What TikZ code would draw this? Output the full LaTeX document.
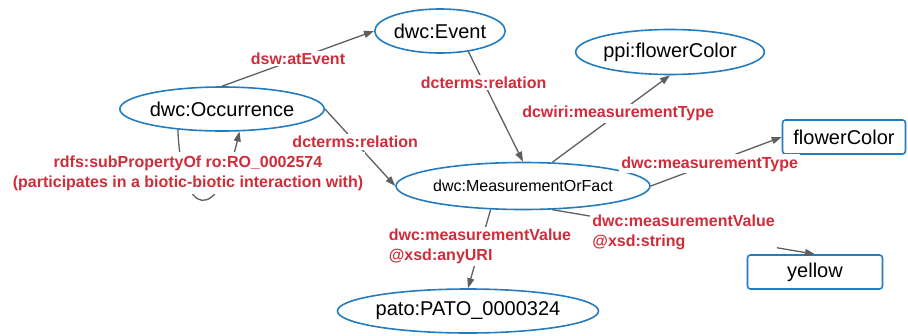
\documentclass[tikz,border=0pt]{standalone}
\usepackage{fontspec}
\setmainfont{Liberation Sans}
\usetikzlibrary{shapes.geometric,arrows.meta}
\definecolor{lblred}{RGB}{208,44,58}
\definecolor{nodeblue}{RGB}{36,124,192}
\definecolor{arrgray}{RGB}{95,95,95}
\tikzset{
  ell/.style={ellipse,draw=nodeblue,line width=1.6pt,inner sep=0pt,font=\fontsize{20}{24}\selectfont},
  lit/.style={rectangle,rounded corners=3pt,draw=nodeblue,line width=1.6pt,inner sep=0pt,font=\fontsize{20}{24}\selectfont},
  arr/.style={draw=arrgray,line width=1.3pt,-{Triangle[length=10pt,width=7pt]}},
  lbl/.style={fill=white,text=lblred,inner sep=2pt,font=\fontsize{16}{20}\selectfont\bfseries}
}
\begin{document}
\begin{tikzpicture}[x=1pt,y=-1pt]
\useasboundingbox (0,0) rectangle (908,335);
\node[ell,minimum width=124pt,minimum height=44pt] (ev) at (440,31) {dwc:Event};
\node[ell,minimum width=180pt,minimum height=45pt] (ppi) at (670,52) {ppi:flowerColor};
\node[ell,minimum width=158pt,minimum height=44pt] (occ) at (222,109) {dwc:Occurrence};
\node[ell,minimum width=206pt,minimum height=47pt,font=\fontsize{16}{20}\selectfont] (mof) at (523,186) {dwc:MeasurementOrFact};
\node[ell,minimum width=201pt,minimum height=44pt] (pato) at (468,311) {pato:PATO\_0000324};
\node[lit,minimum width=123pt,minimum height=34pt] (fc) at (844,137) {flowerColor};
\node[lit,minimum width=135pt,minimum height=34pt] (yel) at (815,272) {yellow};

\draw[arr] (occ.north) -- node[lbl,pos=0.5] {dsw:atEvent} (ev.west);
\draw[arr] (ev.-36) -- node[lbl,pos=0.28] {dcterms:relation} (mof.north);
\draw[arr] (occ.east) -- node[lbl,pos=0.43] {dcterms:relation} (mof.west);
\draw[arr] (mof.39) -- node[lbl,pos=0.56] {dcwiri:measurementType} (ppi.south);
\draw[arr] (mof.east) -- node[lbl,pos=0.45] {dwc:measurementType} (fc.west);
\draw[arr] (mof.-39) -- node[lbl,pos=0.5,align=left] {dwc:measurementValue\\@xsd:string} (yel.north);
\draw[arr] (mof.-144) -- node[lbl,pos=0.47,align=left] {dwc:measurementValue\\@xsd:anyURI} (pato.north);
\draw[arr] (occ.-155) .. controls (182,222) and (218,222) .. (occ.-52);
\node[lbl,align=center,inner ysep=3.5pt] (loop) at (188,173) {rdfs:subPropertyOf ro:RO\_0002574\\(participates in a biotic-biotic interaction with)};
\end{tikzpicture}
\end{document}
